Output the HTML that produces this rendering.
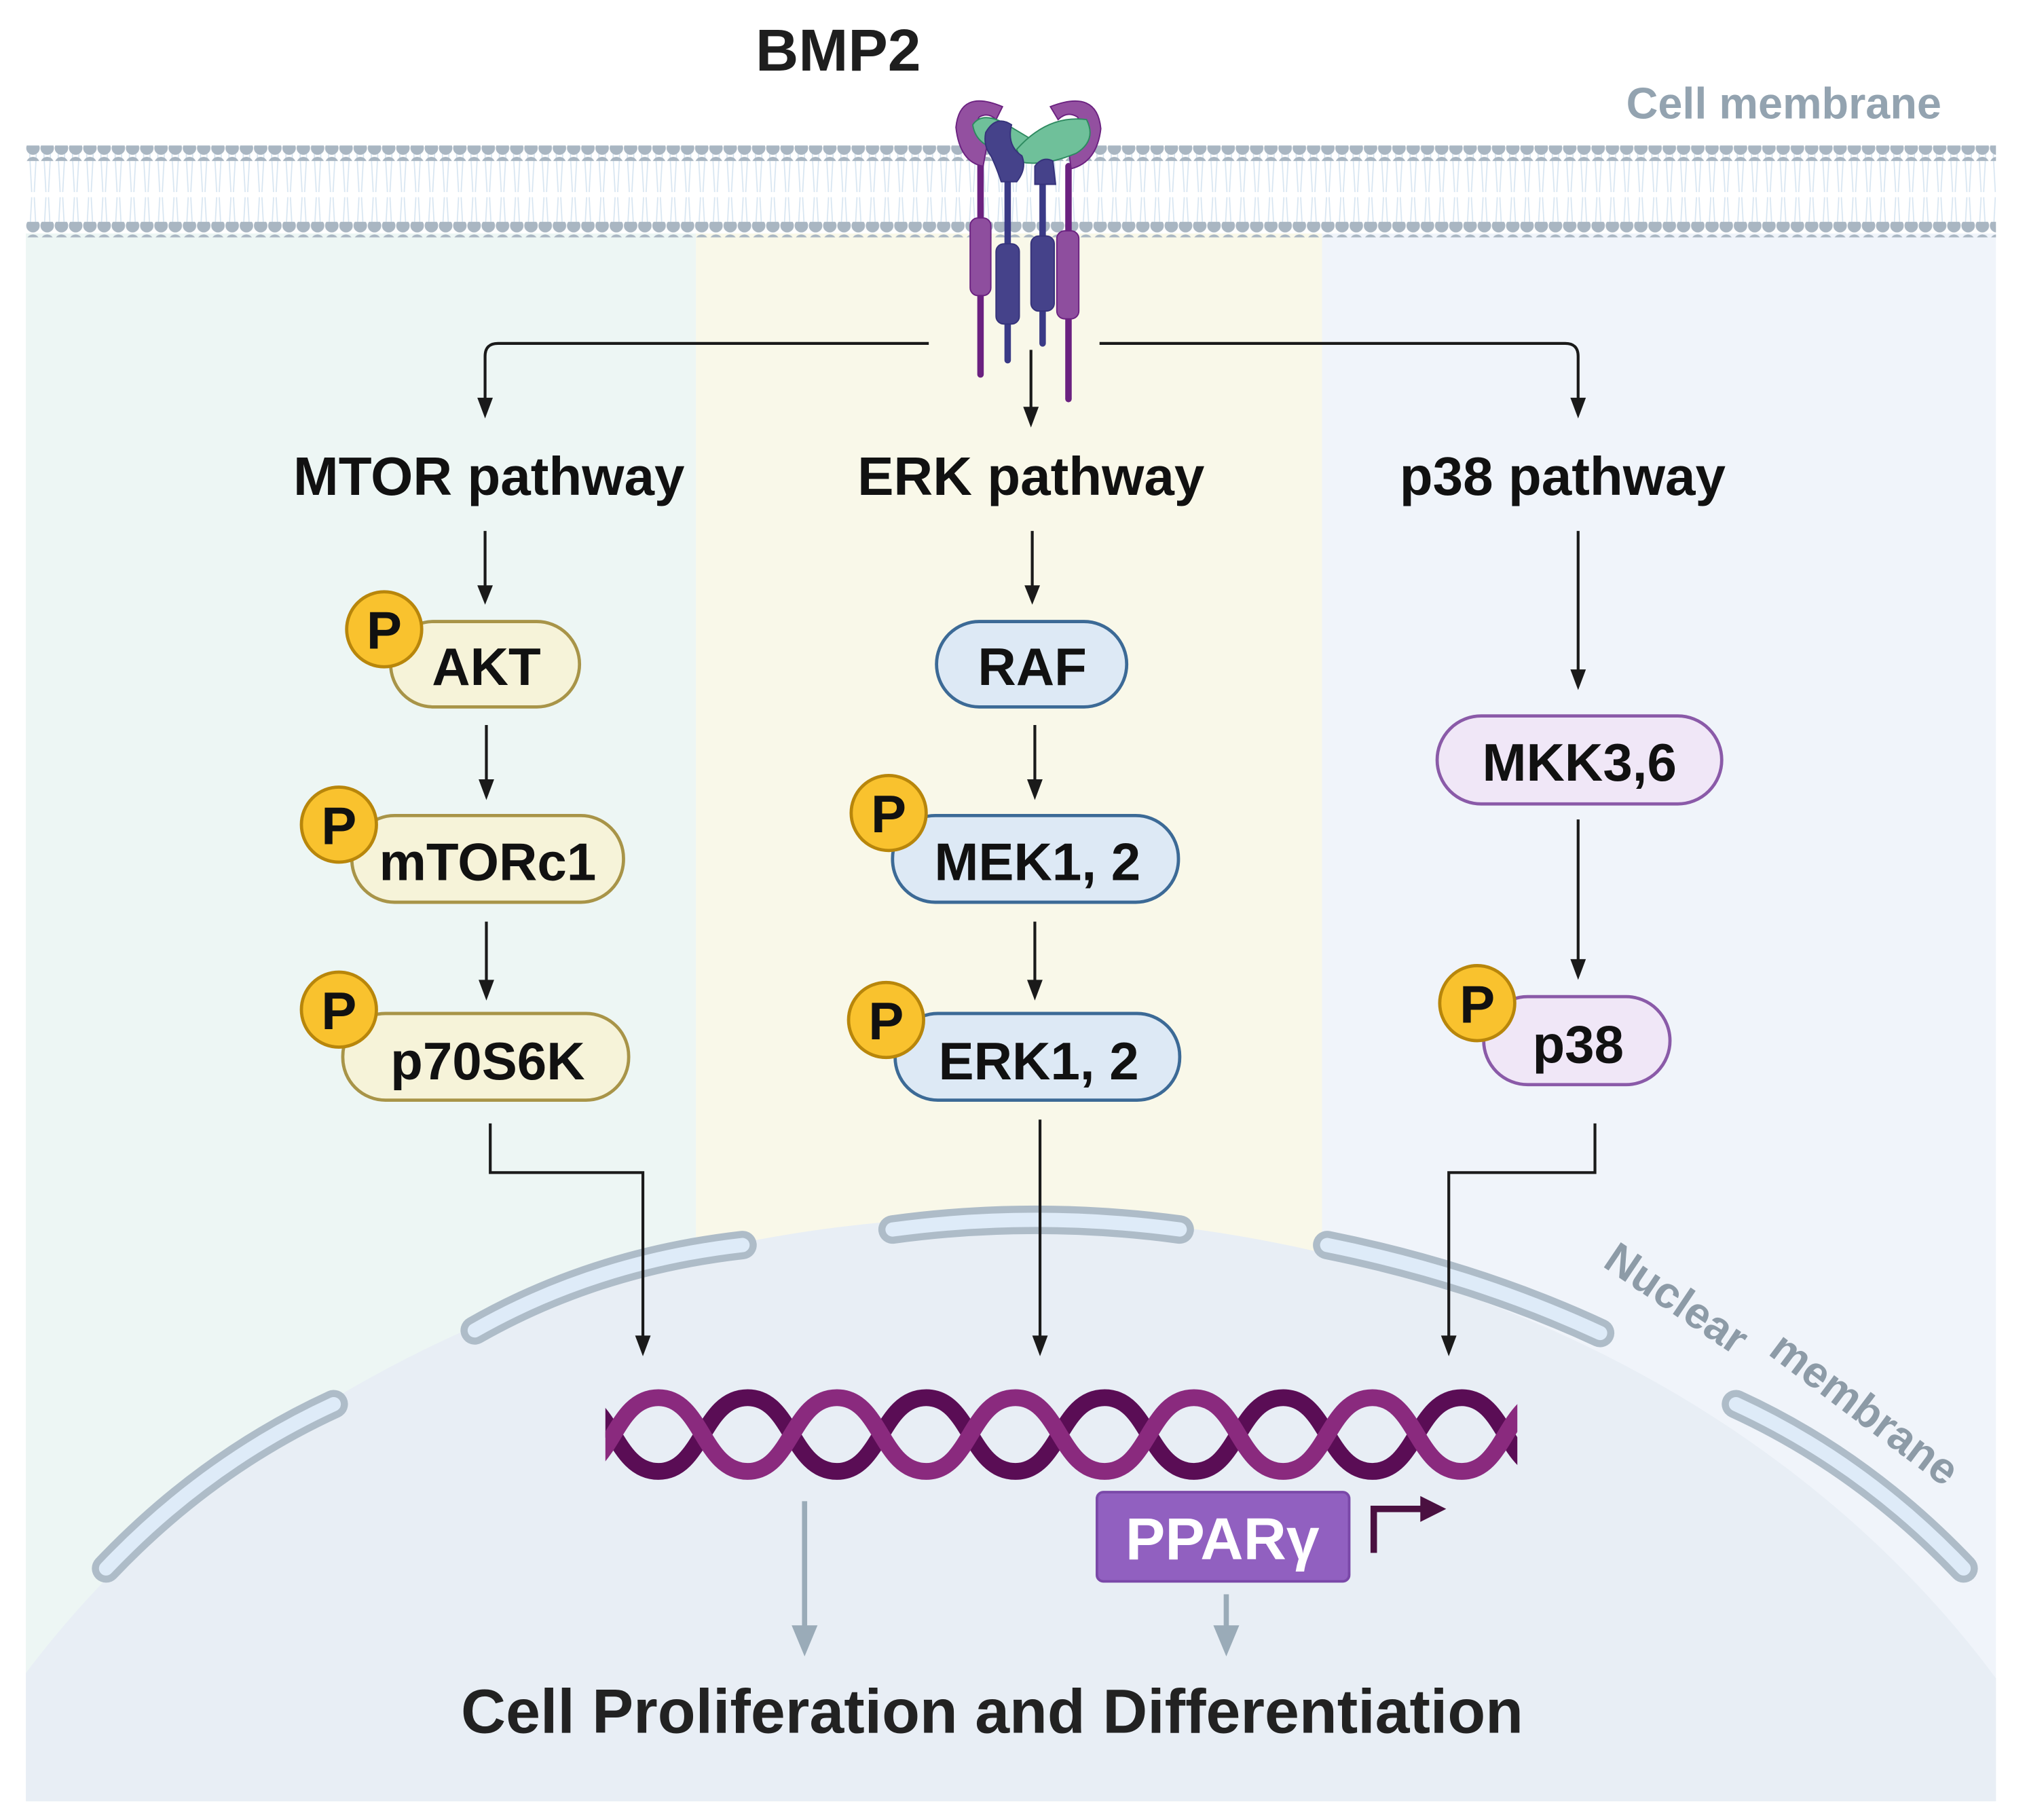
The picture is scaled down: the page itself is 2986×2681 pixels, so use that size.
<!DOCTYPE html>
<html><head><meta charset="utf-8"><style>
html,body{margin:0;padding:0;background:#fff;overflow:hidden;width:2986px;height:2681px}
svg{display:block}
text{font-family:"Liberation Sans",sans-serif;font-weight:bold}
</style></head><body>
<svg width="2986" height="2681" viewBox="0 0 1567 1406" xmlns="http://www.w3.org/2000/svg">
<defs>
<pattern id="dots" x="20" y="0" width="11" height="12" patternUnits="userSpaceOnUse"><circle cx="5.5" cy="6" r="5.2" fill="#a9b6c2"/></pattern>
<pattern id="tails" x="20" y="0" width="11" height="60" patternUnits="userSpaceOnUse"><path d="M3,0 L4.5,28 M8,0 L6.5,28 M3,60 L4.5,32 M8,60 L6.5,32" stroke="#d7e5f1" stroke-width="0.9" fill="none"/></pattern>
</defs>
<rect width="1567" height="1406" fill="#fff"/>
<rect x="20" y="180" width="518" height="1212" fill="#edf6f4"/>
<rect x="538" y="180" width="484" height="1212" fill="#f9f8e9"/>
<rect x="1022" y="180" width="521" height="1212" fill="#f0f4fa"/>
<rect x="20" y="118" width="1523" height="60" fill="url(#tails)"/>
<rect x="20" y="112" width="1523" height="12" fill="url(#dots)"/>
<rect x="20" y="171" width="1523" height="12" fill="url(#dots)"/>
<clipPath id="pc"><rect x="20" y="180" width="1523" height="1212"/></clipPath>
<ellipse cx="780" cy="1700" rx="900" ry="760" fill="#e8eef5" clip-path="url(#pc)"/>
<g fill="none" stroke-linecap="round">
<g stroke="#aebcc8" stroke-width="22">
<path d="M82,1212 Q160,1130 258,1085"/>
<path d="M367,1028 Q460,975 574,962"/>
<path d="M690,950 Q800,935 912,950"/>
<path d="M1026,962 Q1140,985 1237,1030"/>
<path d="M1342,1085 Q1440,1130 1518,1212"/>
</g>
<g stroke="#deebf8" stroke-width="11">
<path d="M82,1212 Q160,1130 258,1085"/>
<path d="M367,1028 Q460,975 574,962"/>
<path d="M690,950 Q800,935 912,950"/>
<path d="M1026,962 Q1140,985 1237,1030"/>
<path d="M1342,1085 Q1440,1130 1518,1212"/>
</g>
</g>
<text x="648" y="54" font-size="46" text-anchor="middle" fill="#1e1e1e">BMP2</text>
<text x="1379" y="91" font-size="34" text-anchor="middle" fill="#93a3b0">Cell membrane</text>
<text transform="translate(1238,978) rotate(34)" font-size="34" fill="#8d9ba7">Nuclear</text>
<text transform="translate(1366,1046) rotate(37)" font-size="34" fill="#8d9ba7">membrane</text>
<!-- receptor -->
<g stroke-linecap="round">
<line x1="758" y1="122" x2="758" y2="289" stroke="#6b2180" stroke-width="5"/>
<line x1="826" y1="128" x2="826" y2="308" stroke="#6b2180" stroke-width="5"/>
<line x1="779" y1="125" x2="779" y2="278" stroke="#3a3a86" stroke-width="5"/>
<line x1="806" y1="125" x2="806" y2="265" stroke="#3a3a86" stroke-width="5"/>
</g>
<rect x="750" y="168" width="16" height="60" rx="6" fill="#8e4e9e" stroke="#6b2180"/>
<rect x="770" y="188" width="18" height="62" rx="6" fill="#45428a" stroke="#35327a"/>
<rect x="797" y="182" width="18" height="58" rx="6" fill="#45428a" stroke="#35327a"/>
<rect x="817" y="178" width="17" height="68" rx="6" fill="#8e4e9e" stroke="#6b2180"/>
<path d="M775,82 Q742,68 739,98 Q742,125 760,128 L763,112 Q751,100 757,90 Q764,86 770,92 Z" fill="#9350a0" stroke="#6b2180"/>
<path d="M812,82 Q848,68 851,99 Q848,125 828,130 L826,114 Q840,102 833,90 Q825,85 818,92 Z" fill="#9350a0" stroke="#6b2180"/>
<path d="M752,96 Q760,84 782,98 L802,110 Q792,122 770,115 Q754,110 752,96 Z" fill="#6fc09a" stroke="#2e8a60"/>
<path d="M786,115 Q810,88 840,92 Q848,108 832,118 Q808,128 790,125 Z" fill="#6fc09a" stroke="#2e8a60"/>
<path d="M762,102 Q770,88 782,96 Q778,112 790,120 Q794,130 786,140 L774,140 Q770,128 766,120 Q760,112 762,102 Z" fill="#45428a" stroke="#35327a"/>
<path d="M800,128 Q806,120 814,124 L816,142 L800,142 Z" fill="#45428a" stroke="#35327a"/>
<!-- arrows -->
<g fill="none" stroke="#1a1a1a" stroke-width="2.2">
<path d="M718,265 L385,265 Q375,265 375,275 L375,310"/>
<path d="M850,265 L1210,265 Q1220,265 1220,275 L1220,310"/>
<line x1="797" y1="270" x2="797" y2="317"/>
<line x1="375" y1="410" x2="375" y2="455"/>
<line x1="798" y1="410" x2="798" y2="455"/>
<line x1="1220" y1="410" x2="1220" y2="520"/>
<line x1="376" y1="560" x2="376" y2="605"/>
<line x1="376" y1="712" x2="376" y2="760"/>
<line x1="800" y1="560" x2="800" y2="605"/>
<line x1="800" y1="712" x2="800" y2="760"/>
<line x1="1220" y1="633" x2="1220" y2="744"/>
<path d="M379,868 L379,906 L497,906 L497,1035"/>
<line x1="804" y1="865" x2="804" y2="1035"/>
<path d="M1233,868 L1233,906 L1120,906 L1120,1035"/>
</g>
<g fill="#1a1a1a">
<path d="M369,307 L381,307 L375,323 Z"/>
<path d="M1214,307 L1226,307 L1220,323 Z"/>
<path d="M791,314 L803,314 L797,330 Z"/>
<path d="M369,452 L381,452 L375,467 Z"/>
<path d="M792,452 L804,452 L798,467 Z"/>
<path d="M1214,517 L1226,517 L1220,533 Z"/>
<path d="M370,602 L382,602 L376,618 Z"/>
<path d="M370,757 L382,757 L376,773 Z"/>
<path d="M794,602 L806,602 L800,618 Z"/>
<path d="M794,757 L806,757 L800,773 Z"/>
<path d="M1214,741 L1226,741 L1220,757 Z"/>
<path d="M491,1032 L503,1032 L497,1048 Z"/>
<path d="M798,1032 L810,1032 L804,1048 Z"/>
<path d="M1114,1032 L1126,1032 L1120,1048 Z"/>
</g>
<g font-size="42" fill="#111" text-anchor="middle">
<text x="378" y="382">MTOR pathway</text>
<text x="797" y="382">ERK pathway</text>
<text x="1208" y="382">p38 pathway</text>
</g>
<g stroke-width="2.5" font-size="41">
<rect x="302" y="480" width="146" height="66" rx="33" fill="#f6f3d9" stroke="#a89448"/>
<rect x="272" y="630" width="210" height="67" rx="33" fill="#f6f3d9" stroke="#a89448"/>
<rect x="265" y="783" width="221" height="67" rx="33" fill="#f6f3d9" stroke="#a89448"/>
<rect x="724" y="480" width="147" height="66" rx="33" fill="#dde9f5" stroke="#3c6a96"/>
<rect x="690" y="630" width="221" height="67" rx="33" fill="#dde9f5" stroke="#3c6a96"/>
<rect x="692" y="783" width="220" height="67" rx="33" fill="#dde9f5" stroke="#3c6a96"/>
<rect x="1111" y="553" width="220" height="68" rx="34" fill="#f0e7f7" stroke="#8a5aa8"/>
<rect x="1147" y="770" width="144" height="68" rx="34" fill="#f0e7f7" stroke="#8a5aa8"/>
<g fill="#f9c22e" stroke="#b8860b">
<circle cx="297" cy="486" r="29"/>
<circle cx="262" cy="637" r="29"/>
<circle cx="262" cy="780" r="29"/>
<circle cx="687" cy="628" r="29"/>
<circle cx="685" cy="788" r="29"/>
<circle cx="1142" cy="775" r="29"/>
</g>
<g fill="#111" stroke="none" text-anchor="middle">
<text x="297" y="501">P</text><text x="262" y="652">P</text><text x="262" y="795">P</text>
<text x="687" y="643">P</text><text x="685" y="803">P</text><text x="1142" y="790">P</text>
<text x="376" y="529">AKT</text>
<text x="377" y="680">mTORc1</text>
<text x="377" y="834">p70S6K</text>
<text x="798" y="529">RAF</text>
<text x="802" y="680">MEK1, 2</text>
<text x="803" y="834">ERK1, 2</text>
<text x="1221" y="603">MKK3,6</text>
<text x="1220" y="821">p38</text>
</g>
</g>
<clipPath id="dc"><rect x="468" y="1060" width="705" height="95"/></clipPath>
<g clip-path="url(#dc)" fill="none" stroke-width="13">
<path d="M440,1080 C474,1080 474,1137 509,1137 C543,1137 543,1080 578,1080 C612,1080 612,1137 647,1137 C681,1137 681,1080 716,1080 C750,1080 750,1137 785,1137 C819,1137 819,1080 854,1080 C888,1080 888,1137 923,1137 C957,1137 957,1080 992,1080 C1026,1080 1026,1137 1061,1137 C1095,1137 1095,1080 1130,1080 C1164,1080 1164,1137 1199,1137" stroke="#5a0d55"/>
<path d="M440,1137 C474,1137 474,1080 509,1080 C543,1080 543,1137 578,1137 C612,1137 612,1080 647,1080 C681,1080 681,1137 716,1137 C750,1137 750,1080 785,1080 C819,1080 819,1137 854,1137 C888,1137 888,1080 923,1080 C957,1080 957,1137 992,1137 C1026,1137 1026,1080 1061,1080 C1095,1080 1095,1137 1130,1137 C1164,1137 1164,1080 1199,1080" stroke="#8a2a7e"/>
</g>
<rect x="848" y="1153" width="195" height="69" rx="5" fill="#9160c0" stroke="#7a48a8" stroke-width="2"/>
<text x="945" y="1205" font-size="46" fill="#fff" text-anchor="middle">PPARγ</text>
<path d="M1062,1200 L1062,1166 L1100,1166" fill="none" stroke="#4a1040" stroke-width="5"/>
<path d="M1098,1156 L1118,1166 L1098,1176 Z" fill="#4a1040"/>
<g stroke="#9aabb8" stroke-width="4">
<line x1="622" y1="1160" x2="622" y2="1262"/>
<line x1="948" y1="1232" x2="948" y2="1262"/>
</g>
<g fill="#9aabb8">
<path d="M612,1256 L632,1256 L622,1280 Z"/>
<path d="M938,1256 L958,1256 L948,1280 Z"/>
</g>
<text x="767" y="1339" font-size="48" fill="#222" text-anchor="middle">Cell Proliferation and Differentiation</text>
</svg>
</body></html>
